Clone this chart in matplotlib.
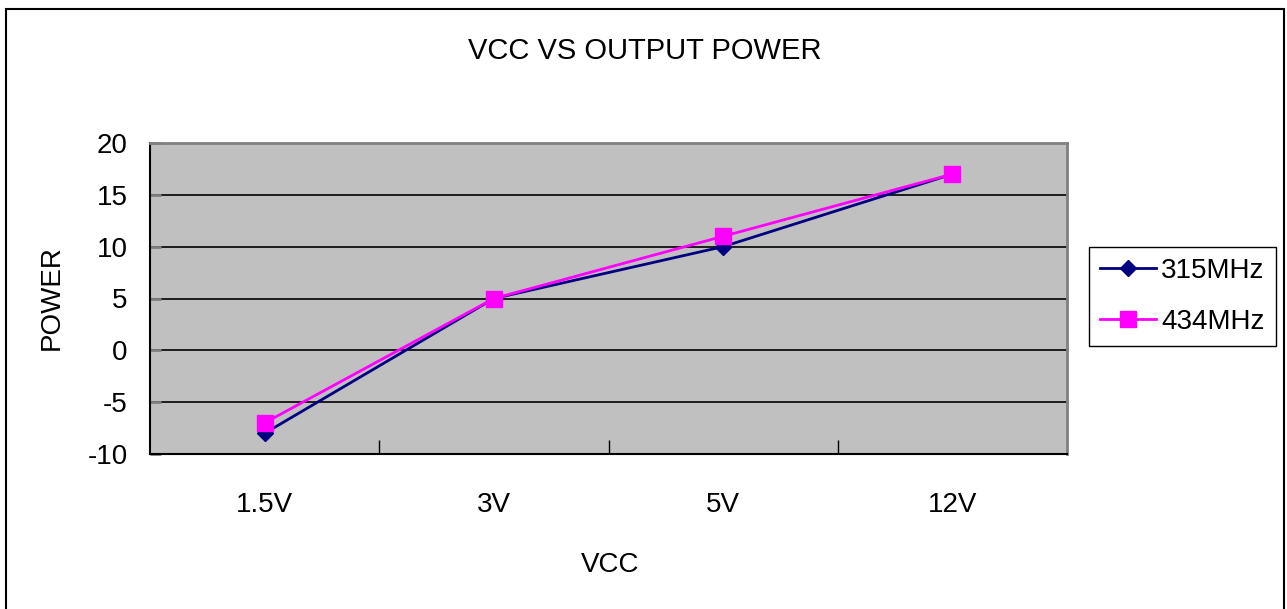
import matplotlib
matplotlib.use("Agg")
import matplotlib.pyplot as plt
from matplotlib.patches import Rectangle

# data
categories = ["1.5V", "3V", "5V", "12V"]
power_315 = [-8, 5, 10, 17]
power_434 = [-7, 5, 11, 17]
y_ticks = [-10, -5, 0, 5, 10, 15, 20]

plt.rcParams['font.family'] = ['Liberation Sans Narrow', 'Liberation Sans', 'DejaVu Sans']
fs = 20

fig = plt.figure(figsize=(12.87, 6.09), dpi=100)
ax = fig.add_axes([150 / 1287, 1 - 454 / 609, 917 / 1287, 311 / 609])
ax.set_facecolor('#C0C0C0')

x = list(range(len(categories)))
ax.plot(x, power_315, color='#000080', lw=2, marker='D', markersize=8,
        label='315MHz', zorder=3)
ax.plot(x, power_434, color='#FF00FF', lw=2, marker='s', markersize=11,
        label='434MHz', zorder=4)

ax.set_xlim(-0.5, len(categories) - 0.5)
ax.set_ylim(-10, 20)
ax.set_yticks(y_ticks)
ax.set_yticklabels([str(v) for v in y_ticks])
ax.set_xticks(x)
ax.set_xticklabels(categories)
ax.set_xticks([i + 0.5 for i in x[:-1]], minor=True)

ax.tick_params(axis='x', which='major', length=0, pad=27, labelsize=fs)
ax.tick_params(axis='x', which='minor', direction='in', length=10, width=1, color='black')
ax.tick_params(axis='y', which='major', direction='in', length=8, width=2,
               color='#808080', pad=16, labelsize=fs)

for v in y_ticks[1:-1]:
    ax.axhline(v, color='black', lw=1.2, zorder=1)

ax.spines['left'].set_color('black')
ax.spines['bottom'].set_color('black')
ax.spines['left'].set_linewidth(1.5)
ax.spines['bottom'].set_linewidth(1.5)
ax.spines['top'].set_color('#808080')
ax.spines['right'].set_color('#808080')
ax.spines['top'].set_linewidth(2)
ax.spines['right'].set_linewidth(2)

fig.text(645 / 1287, 1 - 51 / 609, "VCC VS OUTPUT POWER", ha='center', va='center', fontsize=21)
fig.text(610 / 1287, 1 - 565 / 609, "VCC", ha='center', va='center', fontsize=fs)
fig.text(52 / 1287, 1 - 298 / 609, "POWER", ha='center', va='center', fontsize=fs, rotation=90)

leg = fig.legend(loc='upper left', bbox_to_anchor=(1089 / 1287, 1 - 247 / 609),
                 fontsize=fs, frameon=True, fancybox=False, framealpha=1,
                 edgecolor='black', handlelength=2.0, handletextpad=0.2,
                 borderpad=0.4, labelspacing=0.9, borderaxespad=0)
leg.get_frame().set_linewidth(1)

fig.patches.append(Rectangle((6 / 1287, -0.05), 1278 / 1287, 1.05 - 9 / 609,
                             transform=fig.transFigure, fill=False,
                             edgecolor='black', lw=1.5))

fig.savefig('out.png', dpi=100)
